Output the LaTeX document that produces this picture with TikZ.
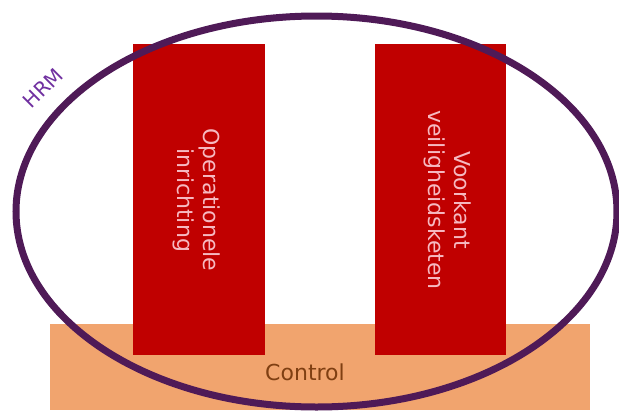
\documentclass[tikz,border=0pt]{standalone}
\usepackage{fontspec}
\setmainfont{DejaVu Sans}
\definecolor{ctrlfill}{HTML}{F1A46E}
\definecolor{ctrltext}{HTML}{7F3F12}
\definecolor{pillar}{HTML}{C00000}
\definecolor{pillartext}{HTML}{F6B9C1}
\definecolor{hrmline}{HTML}{4F1A57}
\definecolor{hrmtext}{HTML}{7030A0}
\tikzset{
  pillarbox/.style={fill=pillar, draw=none, minimum width=132pt, minimum height=311pt, inner sep=0pt},
  pillarlabel/.style={text=pillartext, font=\fontsize{22}{26}\selectfont, align=center, rotate=-90, inner sep=0pt},
  ctrlbox/.style={fill=ctrlfill, draw=none, minimum width=540pt, minimum height=86pt, inner sep=0pt},
}
\begin{document}
\begin{tikzpicture}[x=1pt,y=-1pt]
\useasboundingbox (0,0) rectangle (619,410);
\node[ctrlbox] (ctrl) at (320,367) {};
\node[pillarbox] (left) at (199,199.5) {};
\node[pillarbox, minimum width=131pt] (right) at (440.5,199.5) {};
\draw[hrmline, line width=7pt] (316.5,211.5) ellipse [x radius=300.5, y radius=195.5];
\node[pillarlabel] (lefttext) at (197,200) {Operationele\\inrichting};
\node[pillarlabel] (righttext) at (448,200) {Voorkant\\veiligheidsketen};
\node[text=ctrltext, font=\fontsize{22}{26}\selectfont, inner sep=0pt] (ctrltxt) at (305,372) {Control};
\node[text=hrmtext, font=\fontsize{20}{24}\selectfont, rotate=45, inner sep=0pt] (hrm) at (43,88) {HRM};
\end{tikzpicture}
\end{document}
